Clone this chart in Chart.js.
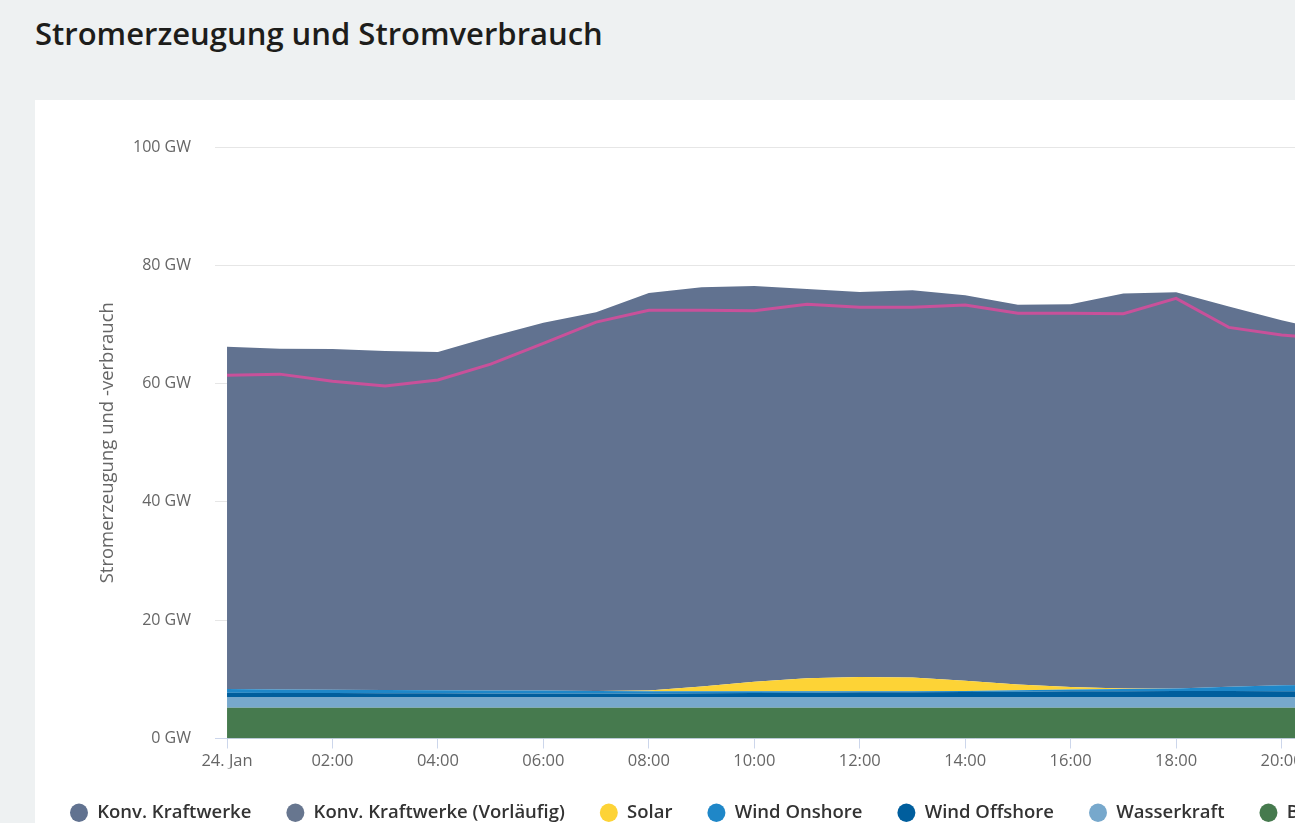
<!DOCTYPE html>
<html><head><meta charset="utf-8">
<title>Stromerzeugung und Stromverbrauch</title>
<style>
  body {
    margin: 0;
    width: 1295px;
    height: 823px;
    overflow: hidden;
    background-color: #eef1f2;
    font-family: 'Open Sans', sans-serif;
  }
  h1 {
    position: absolute;
    left: 35px;
    top: 12px;
    margin: 0;
    font-size: 31px;
    font-weight: 600;
    color: #1d1d1b;
  }
  .card {
    position: absolute;
    left: 35px;
    top: 100px;
    width: 1700px;
    height: 760px;
    background-color: #fff;
  }
  canvas { display: block; }
</style>
<script src="https://cdn.jsdelivr.net/npm/chart.js"></script>
</head>
<body>
<h1>Stromerzeugung und Stromverbrauch</h1>
<div class="card">
  <canvas id="energyChart" width="1700" height="732"></canvas>
</div>

<script>
// hourly values in GW, 24. Jan 00:00 .. 21:00
const hours = [0, 1, 2, 3, 4, 5, 6, 7, 8, 9, 10, 11, 12, 13, 14, 15, 16, 17, 18, 19, 20, 21];

const konv = [57.9, 57.6, 57.6, 57.3, 57.2, 59.8, 62.2, 64.0, 67.2, 67.5, 66.9, 65.8, 65.1, 65.5, 65.2, 64.2, 64.7, 66.8, 67.0, 64.3, 61.7, 59.6];
const konvVorl = [0, 0, 0, 0, 0, 0, 0, 0, 0, 0, 0, 0, 0, 0, 0, 0, 0, 0, 0, 0, 0, 0];
const solar = [0, 0, 0, 0, 0, 0, 0, 0, 0.1, 0.8, 1.6, 2.2, 2.4, 2.3, 1.7, 1.0, 0.4, 0.1, 0, 0, 0, 0];
const windOnshore = [0.6, 0.6, 0.55, 0.55, 0.5, 0.5, 0.5, 0.45, 0.4, 0.35, 0.3, 0.25, 0.2, 0.2, 0.2, 0.25, 0.3, 0.35, 0.4, 0.7, 1.0, 1.1];
const windOffshore = [0.75, 0.7, 0.7, 0.65, 0.65, 0.6, 0.6, 0.6, 0.6, 0.65, 0.7, 0.75, 0.8, 0.8, 0.85, 0.9, 1.0, 1.0, 1.05, 1.05, 1.0, 1.0];
const wasserkraft = [1.8, 1.8, 1.8, 1.8, 1.8, 1.8, 1.8, 1.8, 1.8, 1.8, 1.8, 1.8, 1.8, 1.8, 1.8, 1.8, 1.8, 1.8, 1.8, 1.8, 1.8, 1.8];
const biomasse = [5.2, 5.2, 5.2, 5.2, 5.2, 5.2, 5.2, 5.2, 5.2, 5.2, 5.2, 5.2, 5.2, 5.2, 5.2, 5.2, 5.2, 5.2, 5.2, 5.2, 5.2, 5.2];
const verbrauch = [61.4, 61.6, 60.4, 59.6, 60.6, 63.3, 66.8, 70.4, 72.4, 72.4, 72.3, 73.4, 72.9, 72.9, 73.3, 71.9, 71.9, 71.8, 74.4, 69.5, 68.2, 67.5];

const xTickHours = [0, 2, 4, 6, 8, 10, 12, 14, 16, 18, 20, 22];
const xTickLabels = ['24. Jan', '02:00', '04:00', '06:00', '08:00', '10:00', '12:00', '14:00', '16:00', '18:00', '20:00', '22:00'];
const yTicks = [0, 20, 40, 60, 80, 100];

function points(values) {
  return values.map((v, i) => ({ x: hours[i], y: v }));
}

function area(label, values, color, fill) {
  return {
    label: label,
    data: points(values),
    backgroundColor: color,
    borderColor: color,
    borderWidth: 0,
    fill: fill,
    stack: 'erzeugung'
  };
}

Chart.defaults.font.family = "'Open Sans', sans-serif";

const ctx = document.getElementById('energyChart').getContext('2d');
const chart = new Chart(ctx, {
  type: 'line',
  data: {
    datasets: [
      {
        label: 'Stromverbrauch',
        data: points(verbrauch),
        borderColor: '#c8519a',
        backgroundColor: '#c8519a',
        borderWidth: 3,
        fill: false,
        stack: 'verbrauch'
      },
      area('Biomasse', biomasse, '#467a4e', 'origin'),
      area('Wasserkraft', wasserkraft, '#77a8cc', '-1'),
      area('Wind Offshore', windOffshore, '#005e9d', '-1'),
      area('Wind Onshore', windOnshore, '#1f87c8', '-1'),
      area('Solar', solar, '#fdd336', '-1'),
      area('Konv. Kraftwerke (Vorläufig)', konvVorl, '#67768f', '-1'),
      area('Konv. Kraftwerke', konv, '#617290', '-1')
    ]
  },
  options: {
    responsive: false,
    animation: false,
    layout: { padding: { top: 47, left: 0, right: 0, bottom: 0 } },
    elements: {
      point: { radius: 0, hoverRadius: 0 },
      line: { tension: 0 }
    },
    scales: {
      x: {
        type: 'linear',
        min: -0.228,
        max: 28.6,
        afterBuildTicks: scale => { scale.ticks = xTickHours.map(v => ({ value: v })); },
        afterFit: scale => { scale.height = 30; },
        ticks: {
          callback: (value, index) => xTickLabels[index],
          autoSkip: false,
          maxRotation: 0,
          color: '#666',
          font: { size: 16.5 },
          padding: 3
        },
        grid: { drawOnChartArea: false, drawTicks: true, tickLength: 10, color: '#ccd6eb' },
        border: { color: '#ccd6eb' }
      },
      y: {
        stacked: true,
        min: 0,
        max: 100,
        afterBuildTicks: scale => { scale.ticks = yTicks.map(v => ({ value: v })); },
        afterFit: scale => { scale.width = 180; },
        ticks: {
          callback: value => value + ' GW',
          color: '#666',
          font: { size: 16 },
          padding: 24
        },
        grid: { color: '#e6e6e6', drawTicks: false },
        border: { display: false },
        title: {
          display: true,
          text: 'Stromerzeugung und -verbrauch',
          color: '#666',
          font: { size: 18.5 },
          padding: { top: 62, bottom: 0 }
        }
      }
    },
    plugins: {
      legend: {
        position: 'bottom',
        align: 'start',
        reverse: true,
        labels: {
          usePointStyle: true,
          pointStyle: 'circle',
          boxHeight: 13,
          pointStyleWidth: 18,
          padding: 35,
          color: '#333',
          font: { size: 18.5, weight: '600' }
        }
      },
      tooltip: { enabled: false }
    }
  }
});
</script>
</body></html>
